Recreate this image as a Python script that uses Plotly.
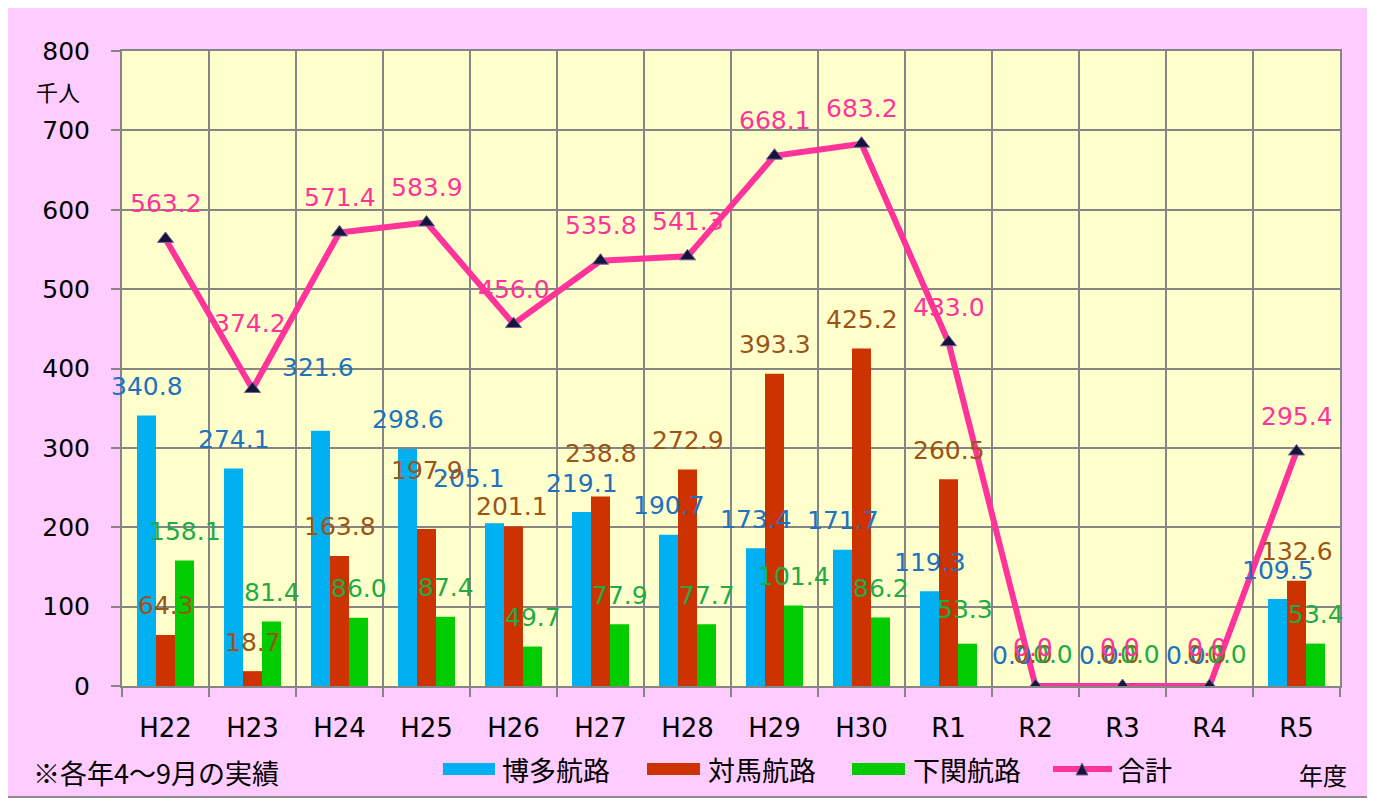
import plotly.graph_objects as go

# ---------------- data ----------------
categories = ["H22", "H23", "H24", "H25", "H26", "H27", "H28",
              "H29", "H30", "R1", "R2", "R3", "R4", "R5"]
hakata = [340.8, 274.1, 321.6, 298.6, 205.1, 219.1, 190.7,
          173.4, 171.7, 119.3, 0.0, 0.0, 0.0, 109.5]
tsushima = [64.3, 18.7, 163.8, 197.9, 201.1, 238.8, 272.9,
            393.3, 425.2, 260.5, 0.0, 0.0, 0.0, 132.6]
shimonoseki = [158.1, 81.4, 86.0, 87.4, 49.7, 77.9, 77.7,
               101.4, 86.2, 53.3, 0.0, 0.0, 0.0, 53.4]
total = [563.2, 374.2, 571.4, 583.9, 456.0, 535.8, 541.3,
         668.1, 683.2, 433.0, 0.0, 0.0, 0.0, 295.4]
series_names = ["博多航路", "対馬航路", "下関航路", "合計"]
y_tickvals = [0, 100, 200, 300, 400, 500, 600, 700, 800]
unit_label = "千人"
x_title = "年度"
note_text = "※各年4～9月の実績"

# ---------------- styles ----------------
PAGE_OFF = 8                      # default body margin of the html page
W, H = 1375 - PAGE_OFF, 802 - PAGE_OFF
# plot area in page pixels: x 122..1340, y 51..686
ML, MT = 122 - PAGE_OFF, 51 - PAGE_OFF
PW, PH = 1218, 635
MR, MB = W - ML - PW, H - MT - PH

PINK_BG = "#FFCCFF"
YELLOW_BG = "#FFFFCC"
GRID = "#868686"
C_BLUE, C_RED, C_GREEN, C_LINE = "#00B0F0", "#CC3300", "#00CC00", "#FF3399"
T_BLUE, T_RED, T_GREEN, T_PINK = "#2171C1", "#9C5419", "#1EAB48", "#FF3399"
NUM_FONT = "DejaVu Sans"
JP_FONT = "Noto Sans CJK JP"

BARGAP = 0.345
bw = (1 - BARGAP) / 3


def px_x(px):
    """page pixel x -> paper x"""
    return (px - PAGE_OFF - ML) / PW


def px_y(py):
    """page pixel y -> paper y"""
    return (MT + PH - (py - PAGE_OFF)) / PH


x = list(range(len(categories)))

fig = go.Figure()
bar_specs = [(hakata, C_BLUE), (tsushima, C_RED), (shimonoseki, C_GREEN)]
for (vals, col), name in zip(bar_specs, series_names[:3]):
    fig.add_trace(go.Bar(x=x, y=vals, name=name, marker=dict(color=col, line=dict(width=0)),
                         showlegend=False))

fig.add_trace(go.Scatter(
    x=x, y=total, name=series_names[3], mode="lines+markers",
    line=dict(color=C_LINE, width=6),
    marker=dict(symbol="triangle-up", size=14, color="#15153A",
                line=dict(color="#7A5C9E", width=1)),
    showlegend=False))

# ---------------- data labels ----------------
annotations = []
label_specs = [
    (hakata, -bw, T_BLUE, -29, {2: (-3, -63), 4: (-26, -45), 10: (-5, -31), 11: (-5, -31), 12: (-5, -31)}),
    (tsushima, 0.0, T_RED, -29, {3: (0, -58), 4: (-2, -20), 5: (0, -43), 10: (-3, -32), 11: (-3, -32), 12: (-3, -32)}),
    (shimonoseki, bw, T_GREEN, -29, {9: (-3, -34), 10: (-2, -32), 11: (-2, -32), 12: (-2, -32)}),
    (total, 0.0, T_PINK, -35, {1: (-3, -65), 10: (-3, -39), 11: (-3, -39), 12: (-3, -39)}),
]
for vals, off, col, base_dy, over in label_specs:
    for i, v in enumerate(vals):
        dx, dy = over.get(i, (0, base_dy))
        annotations.append(dict(
            x=i + off, y=v, xref="x", yref="y", text=f"{v:.1f}", showarrow=False,
            xanchor="center", yanchor="middle", xshift=dx, yshift=-dy,
            font=dict(family=NUM_FONT, size=25, color=col)))

# unit, note, x title
annotations.append(dict(x=px_x(58), y=px_y(91), xref="paper", yref="paper", text=unit_label,
                        showarrow=False, xanchor="center", yanchor="middle",
                        font=dict(family=JP_FONT, size=22, color="#000000")))
annotations.append(dict(x=px_x(31), y=px_y(772), xref="paper", yref="paper", text=note_text,
                        showarrow=False, xanchor="left", yanchor="middle",
                        font=dict(family=JP_FONT, size=27, color="#000000")))
annotations.append(dict(x=px_x(1323), y=px_y(774), xref="paper", yref="paper", text=x_title,
                        showarrow=False, xanchor="center", yanchor="middle",
                        font=dict(family=JP_FONT, size=24, color="#000000")))

# ---------------- background shapes ----------------
shapes = [
    dict(type="rect", xref="paper", yref="paper", layer="below",
         x0=px_x(6), x1=px_x(1368), y0=px_y(797), y1=px_y(6),
         fillcolor=PINK_BG, line=dict(color="#8C8C8C", width=2)),
    dict(type="rect", xref="paper", yref="paper", layer="below",
         x0=0, x1=1, y0=0, y1=1, fillcolor=YELLOW_BG, line=dict(width=0)),
]

# ---------------- manual legend ----------------
leg_cy = 769
leg_items = [(443, 495, 500, C_BLUE), (647, 700, 706, C_RED), (852, 905, 911, C_GREEN)]
for (r0, r1, tx, col), name in zip(leg_items, series_names[:3]):
    shapes.append(dict(type="rect", xref="paper", yref="paper",
                       x0=px_x(r0), x1=px_x(r1), y0=px_y(leg_cy + 6), y1=px_y(leg_cy - 6),
                       fillcolor=col, line=dict(width=0)))
    annotations.append(dict(x=px_x(tx), y=px_y(leg_cy), xref="paper", yref="paper", text=name,
                            showarrow=False, xanchor="left", yanchor="middle",
                            font=dict(family=JP_FONT, size=27, color="#000000")))
shapes.append(dict(type="line", xref="paper", yref="paper",
                   x0=px_x(1053), x1=px_x(1112), y0=px_y(leg_cy), y1=px_y(leg_cy),
                   line=dict(color=C_LINE, width=6)))
tri = (f"M {px_x(1076)},{px_y(leg_cy + 6)} L {px_x(1088)},{px_y(leg_cy + 6)} "
       f"L {px_x(1082)},{px_y(leg_cy - 6)} Z")
shapes.append(dict(type="path", xref="paper", yref="paper", path=tri,
                   fillcolor="#15153A", line=dict(color="#7A5C9E", width=1)))
annotations.append(dict(x=px_x(1116), y=px_y(leg_cy), xref="paper", yref="paper",
                        text=series_names[3], showarrow=False, xanchor="left", yanchor="middle",
                        font=dict(family=JP_FONT, size=27, color="#000000")))

fig.update_layout(
    width=W, height=H,
    margin=dict(l=ML, r=MR, t=MT, b=MB, pad=0),
    paper_bgcolor="#FFFFFF",
    plot_bgcolor="rgba(0,0,0,0)",
    barmode="group", bargap=BARGAP, bargroupgap=0,
    showlegend=False,
    shapes=shapes,
    annotations=annotations,
    xaxis=dict(
        range=[-0.5, len(categories) - 0.5],
        tickmode="array", tickvals=x, ticktext=categories,
        ticks="", showgrid=False, zeroline=False,
        showline=True, linecolor=GRID, linewidth=2, mirror=True,
        tickfont=dict(family=NUM_FONT, size=26, color="#000000"),
        ticklabelstandoff=18,
        minor=dict(tickmode="linear", tick0=-0.5, dtick=1, ticks="outside", ticklen=9,
                   tickwidth=2, tickcolor=GRID, showgrid=True, gridcolor=GRID, gridwidth=2),
        automargin=False,
    ),
    yaxis=dict(
        range=[0, 800], tickmode="array", tickvals=y_tickvals,
        ticks="outside", ticklen=9, tickwidth=2, tickcolor=GRID,
        showgrid=True, gridcolor=GRID, gridwidth=2, zeroline=False,
        showline=True, linecolor=GRID, linewidth=2, mirror=True,
        tickfont=dict(family=NUM_FONT, size=25, color="#000000"),
        ticklabelstandoff=16,
        automargin=False,
    ),
)

fig.write_html("out.html")
